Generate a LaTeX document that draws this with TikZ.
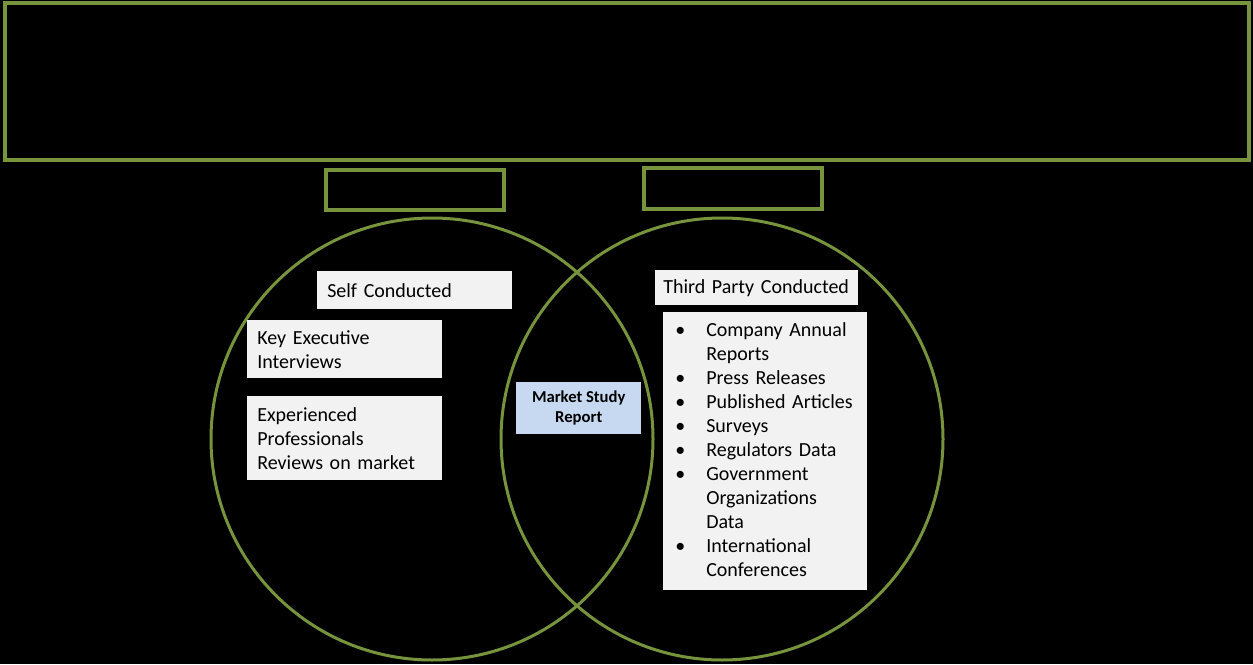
\documentclass[tikz,border=0pt]{standalone}
\usepackage{fontspec}
\setmainfont{Carlito}
\usepackage{tikz}
\definecolor{framegreen}{HTML}{77933C}
\definecolor{boxgrey}{HTML}{F2F2F2}
\definecolor{reportblue}{HTML}{C6D9F1}

\begin{document}
\begin{tikzpicture}[x=0.75pt,y=-0.75pt,
    frame/.style={draw=framegreen,line width=3pt},
    venn/.style={draw=framegreen,line width=2.25pt},
    textbox/.style={fill=boxgrey,anchor=north west,align=left,inner xsep=7.5pt,inner ysep=0pt,font=\fontsize{15}{18}\selectfont}]
      \fill[black] (0,0) rectangle (1253,664);
      \useasboundingbox (0,0) rectangle (1253,664);
      \draw[frame] (5,3) rectangle (1249,160);
      \draw[frame] (326,170) rectangle (504,210);
      \draw[frame] (644,168) rectangle (822,209);
      \draw[venn] (432,439) circle (165.75pt);
      \draw[venn] (722,439) circle (165.75pt);
      % left side
      \node[textbox,text width=131.25pt,minimum height=28.5pt] (self) at (317,271) {Self Conducted};
      \node[textbox,text width=131.25pt,minimum height=43.5pt] (keyexec) at (247,320) {Key Executive\\Interviews};
      \node[textbox,text width=131.25pt,minimum height=63pt] (experts) at (247,396) {Experienced\\Professionals\\Reviews on market};
      % middle
      \node[fill=reportblue,anchor=north west,minimum width=93.75pt,minimum height=39pt,inner sep=0pt,align=center,font=\fontsize{12.5}{15}\selectfont\bfseries] (report) at (516,382) {Market Study\\Report};
      % right side
      \node[textbox,inner xsep=6pt,text width=140.25pt,minimum height=26.25pt] (third) at (655,270) {Third Party Conducted};
      \node[textbox,text width=138pt,minimum height=208.5pt] (sources) at (663,312) {%
        \begin{tabular}{@{}p{24.75pt}@{}l@{}}
        \hspace{1.5pt}\textbullet & Company Annual\\
         & Reports\\
        \hspace{1.5pt}\textbullet & Press Releases\\
        \hspace{1.5pt}\textbullet & Published Articles\\
        \hspace{1.5pt}\textbullet & Surveys\\
        \hspace{1.5pt}\textbullet & Regulators Data\\
        \hspace{1.5pt}\textbullet & Government\\
         & Organizations\\
         & Data\\
        \hspace{1.5pt}\textbullet & International\\
         & Conferences
        \end{tabular}};
\end{tikzpicture}
\end{document}
